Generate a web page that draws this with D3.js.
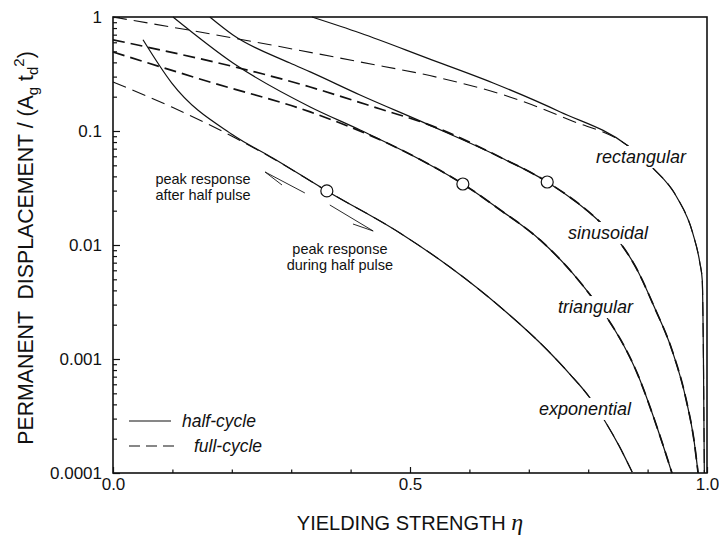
<!DOCTYPE html>
<html>
<head>
<meta charset="utf-8">
<script src="https://cdn.jsdelivr.net/npm/d3@7"></script>
<style>
  body { margin: 0; background: #fff; }
  text { font-family: "Liberation Sans", Arial, sans-serif; fill: #111; }
</style>
</head>
<body>
<div id="chart"></div>
<script>
// axis ticks
const xTicks = [0, 0.5, 1.0];
const xTickLabels = ["0.0", "0.5", "1.0"];
const yTicks = [1e-4, 1e-3, 1e-2, 0.1, 1];
const yTickLabels = ["0.0001", "0.001", "0.01", "0.1", "1"];

const pulseShapes = ["rectangular", "sinusoidal", "triangular", "exponential"];

// half-cycle curves (solid), [eta, displacement]
const rectHalf = [
  [0.335, 1.0], [0.416, 0.724], [0.529, 0.436], [0.640, 0.264], [0.753, 0.147],
  [0.865, 0.0753], [0.909, 0.0473], [0.949, 0.0264], [0.976, 0.0127],
  [0.988, 0.00695], [0.992, 0.00493], [0.994, 0.001], [0.9955, 0.0001]
];
const sineHalf = [
  [0.163, 1.0], [0.202, 0.695], [0.298, 0.395], [0.332, 0.330], [0.416, 0.207],
  [0.529, 0.115], [0.651, 0.0592], [0.731, 0.0357], [0.820, 0.0159], [0.854, 0.0104],
  [0.879, 0.00654], [0.912, 0.0028], [0.941, 0.0012], [0.965, 0.000437],
  [0.978, 0.000195], [0.985, 0.0001]
];
const triHalf = [
  [0.101, 1.0], [0.202, 0.395], [0.332, 0.1626], [0.416, 0.102], [0.512, 0.058],
  [0.589, 0.0343], [0.652, 0.0203], [0.719, 0.01107], [0.764, 0.00646], [0.806, 0.0035],
  [0.832, 0.00229], [0.882, 0.00076], [0.916, 0.000251], [0.941, 0.0001]
];
const expHalf = [
  [0.0505, 0.631], [0.099, 0.263], [0.202, 0.0923], [0.269, 0.058], [0.360, 0.0298],
  [0.483, 0.01274], [0.567, 0.00641], [0.652, 0.00286], [0.731, 0.0012],
  [0.769, 0.000738], [0.803, 0.000455], [0.828, 0.000286], [0.852, 0.000173], [0.874, 0.000102]
];

// full-cycle curves (dashed): only the low-eta part differs, then they join the half-cycle curve
const rectFullHead = [
  [0, 1.0], [0.202, 0.655], [0.416, 0.403], [0.5505, 0.292], [0.668, 0.199],
  [0.769, 0.125], [0.865, 0.0753]
];
const sineFullHead = [[0, 0.631], [0.332, 0.243], [0.45, 0.156], [0.529, 0.115]];
const triFullHead = [[0, 0.493], [0.163, 0.269], [0.332, 0.147], [0.455, 0.0813]];
const expFullHead = [[0, 0.269], [0.099, 0.162], [0.202, 0.089], [0.269, 0.0575], [0.360, 0.0298]];

// change from peak after to peak during the half pulse
const transitionPoints = [[0.360, 0.0298], [0.589, 0.0343], [0.731, 0.0357]];

// where each curve name sits (left end of text baseline)
const shapeLabelPos = [[0.813, 0.0524], [0.766, 0.0113], [0.749, 0.00253], [0.717, 0.000323]];

const width = 719, height = 540;
const margin = { top: 17, right: 12, bottom: 67, left: 113 };
const innerW = width - margin.left - margin.right;
const innerH = height - margin.top - margin.bottom;

const svg = d3.select("#chart").append("svg")
  .attr("width", width).attr("height", height);

const g = svg.append("g").attr("transform", `translate(${margin.left},${margin.top})`);

const x = d3.scaleLinear().domain([0, 1]).range([0, innerW]);
const y = d3.scaleLog().domain([1e-4, 1]).range([innerH, 0]);

// minor ticks
const xMinor = d3.range(1, 10).map(i => i / 10).filter(v => v !== 0.5);
const yMinor = [];
for (let e = -4; e < 0; e++) for (let m = 2; m <= 9; m++) yMinor.push(m * Math.pow(10, e));

g.append("g").attr("transform", `translate(0,${innerH})`)
  .call(d3.axisBottom(x).tickValues(xMinor).tickSize(-3.5).tickFormat(""))
  .call(a => a.select(".domain").remove());
g.append("g").attr("transform", `translate(0,${innerH})`)
  .call(d3.axisBottom(x).tickValues(xTicks).tickSize(-6).tickPadding(5)
    .tickFormat((d, i) => xTickLabels[i]))
  .call(a => a.select(".domain").remove())
  .selectAll("text").attr("font-size", 17).attr("dy", "0.72em")
  .style("font-family", "'Liberation Sans', Arial, sans-serif");

g.append("g")
  .call(d3.axisLeft(y).tickValues(yMinor).tickSize(-4).tickFormat(""))
  .call(a => a.select(".domain").remove());
g.append("g")
  .call(d3.axisLeft(y).tickValues(yTicks).tickSize(-7).tickPadding(11)
    .tickFormat((d, i) => yTickLabels[i]))
  .call(a => a.select(".domain").remove())
  .selectAll("text").attr("font-size", 17)
  .style("font-family", "'Liberation Sans', Arial, sans-serif");

g.selectAll(".tick line").attr("stroke", "#111").attr("stroke-width", 1.2);

// frame
g.append("rect").attr("width", innerW).attr("height", innerH)
  .attr("fill", "none").attr("stroke", "#111").attr("stroke-width", 1.6);

const line = d3.line().x(d => x(d[0])).y(d => y(d[1])).curve(d3.curveMonotoneX);

function joinTail(head, half) {
  const last = head[head.length - 1][0];
  return head.concat(half.filter(d => d[0] > last));
}

const halfCurves = [rectHalf, sineHalf, triHalf, expHalf];
const fullCurves = [
  joinTail(rectFullHead, rectHalf),
  joinTail(sineFullHead, sineHalf),
  joinTail(triFullHead, triHalf),
  joinTail(expFullHead, expHalf)
];
const dashWidth = [1.1, 1.7, 1.7, 1.1];
const dashPattern = ["14,7", "12,6", "12,6", "14,7"];

const curves = g.append("g");
fullCurves.forEach((c, i) => {
  curves.append("path").datum(c).attr("d", line)
    .attr("fill", "none").attr("stroke", "#111")
    .attr("stroke-width", dashWidth[i]).attr("stroke-dasharray", dashPattern[i]);
});
halfCurves.forEach(c => {
  curves.append("path").datum(c).attr("d", line)
    .attr("fill", "none").attr("stroke", "#111").attr("stroke-width", 1.2);
});

g.selectAll(".marker").data(transitionPoints).join("circle")
  .attr("cx", d => x(d[0])).attr("cy", d => y(d[1])).attr("r", 6)
  .attr("fill", "#fff").attr("stroke", "#111").attr("stroke-width", 1.2);

// curve names with white box behind so the lines break
pulseShapes.forEach((name, i) => {
  const p = shapeLabelPos[i];
  const lg = g.append("g");
  const t = lg.append("text").attr("x", x(p[0])).attr("y", y(p[1]))
    .attr("font-size", 18).attr("font-style", "italic").text(name);
  const b = t.node().getBBox();
  lg.insert("rect", "text").attr("x", b.x - 3).attr("y", b.y - 1)
    .attr("width", b.width + 6).attr("height", b.height + 2).attr("fill", "#fff");
});

// arrows and notes
const arrows = [
  { tail: [0.323, 0.0286], tip: [0.256, 0.0437], barb: [0.2845, 0.0336] },
  { tail: [0.365, 0.02244], tip: [0.438, 0.01327], barb: [0.404, 0.01528] }
];
arrows.forEach(a => {
  g.append("path")
    .attr("d", `M${x(a.tail[0])},${y(a.tail[1])}L${x(a.tip[0])},${y(a.tip[1])}L${x(a.barb[0])},${y(a.barb[1])}`)
    .attr("fill", "none").attr("stroke", "#111").attr("stroke-width", 0.9);
});

const notes = [
  { at: [0.1515, 0.0343], lines: ["peak response", "after half pulse"] },
  { at: [0.382, 0.00834], lines: ["peak response", "during half pulse"] }
];
notes.forEach(n => {
  const t = g.append("text").attr("x", x(n.at[0])).attr("y", y(n.at[1]))
    .attr("text-anchor", "middle").attr("font-size", 14.5);
  n.lines.forEach((l, i) => {
    t.append("tspan").attr("x", x(n.at[0])).attr("dy", i ? 16.5 : 0).text(l);
  });
});

// legend
const legend = g.append("g").attr("transform", `translate(16,${innerH - 52})`);
legend.append("line").attr("x1", 0).attr("x2", 42).attr("y1", 0).attr("y2", 0)
  .attr("stroke", "#111").attr("stroke-width", 1.2);
legend.append("text").attr("x", 53).attr("y", 6).attr("font-size", 17.5)
  .attr("font-style", "italic").text("half-cycle");
legend.append("line").attr("x1", 0).attr("x2", 47).attr("y1", 25).attr("y2", 25)
  .attr("stroke", "#111").attr("stroke-width", 1.2).attr("stroke-dasharray", "11,6");
legend.append("text").attr("x", 65).attr("y", 31).attr("font-size", 17.5)
  .attr("font-style", "italic").text("full-cycle");

// axis titles
svg.append("text")
  .attr("x", margin.left + innerW / 2).attr("y", 530)
  .attr("text-anchor", "middle").attr("font-size", 20)
  .call(t => {
    t.append("tspan").text("YIELDING STRENGTH ");
    t.append("tspan").attr("font-family", "'Liberation Serif', serif")
      .attr("font-style", "italic").attr("font-size", 24).text("η");
  });

svg.append("text")
  .attr("transform", `translate(33,${margin.top + innerH / 2 + 3}) rotate(-90)`)
  .attr("text-anchor", "middle").attr("font-size", 21.3)
  .style("white-space", "pre")
  .call(t => {
    t.append("tspan").text("PERMANENT  DISPLACEMENT / (A");
    t.append("tspan").attr("font-size", 15).attr("dy", 5).text("g");
    t.append("tspan").attr("dy", -5).text(" t");
    t.append("tspan").attr("font-size", 15).attr("dy", 5).text("d");
    t.append("tspan").attr("font-size", 15).attr("dy", -14).text("2");
    t.append("tspan").attr("dy", 9).text(")");
  });
</script>
</body>
</html>
